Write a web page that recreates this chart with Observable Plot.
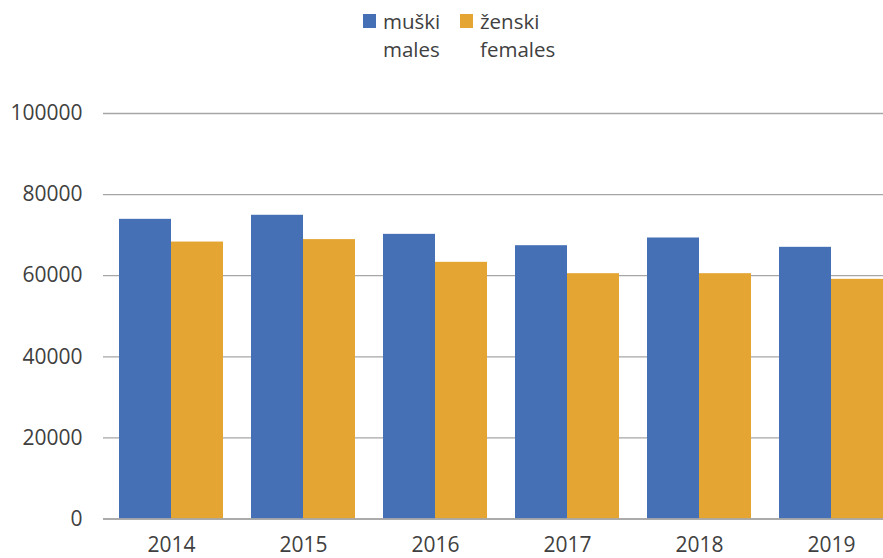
<!DOCTYPE html>
<html>
<head>
<meta charset="utf-8">
<script src="https://cdn.jsdelivr.net/npm/d3@7"></script>
<script src="https://cdn.jsdelivr.net/npm/@observablehq/plot@0.6"></script>
<style>
  html, body { margin: 0; padding: 0; background: #fff; overflow: hidden; width: 883px; height: 558px; }
  body { font-family: "Open Sans", sans-serif; color: #404040; }
  #legend { position: relative; height: 70px; font-size: 20.5px; line-height: 28px; }
  .item { position: absolute; top: 7px; display: flex; align-items: flex-start; }
  .sw { width: 13px; height: 14px; margin-top: 7px; margin-right: 7px; }
  #chart svg { max-width: none !important; }
  svg text { fill: #404040; }
</style>
</head>
<body>
<div id="legend"></div>
<div id="chart"></div>
<script>
const years = ["2014", "2015", "2016", "2017", "2018", "2019"];
const males = [73900, 74900, 70200, 67400, 69300, 67000];
const females = [68300, 68900, 63300, 60500, 60500, 59100];
const seriesLabels = [["muški", "males"], ["ženski", "females"]];
const seriesColors = ["#4570b5", "#e5a533"];
const yTicks = [0, 20000, 40000, 60000, 80000, 100000];

// legend
const legend = document.getElementById("legend");
const legendX = [363, 460];
seriesLabels.forEach((lab, i) => {
  const it = document.createElement("div");
  it.className = "item";
  it.style.left = legendX[i] + "px";
  it.innerHTML = `<div class="sw" style="background:${seriesColors[i]}"></div><div>${lab[0]}<br>${lab[1]}</div>`;
  legend.appendChild(it);
});

const maleData = years.map((y, i) => ({year: y, value: males[i]}));
const femaleData = years.map((y, i) => ({year: y, value: females[i]}));

const chart = Plot.plot({
  width: 897,
  height: 488,
  marginLeft: 104,
  marginRight: 0,
  marginTop: 43,
  marginBottom: 39.5,
  style: {fontFamily: "'Open Sans', sans-serif", fontSize: "21px", color: "#404040", background: "#fff", overflow: "visible", maxWidth: "none"},
  x: {domain: years, paddingInner: 0.213, paddingOuter: 0.107, label: null, tickSize: 0, tickPadding: 18},
  y: {domain: [0, 100000], ticks: yTicks, label: null, tickSize: 0, tickPadding: 22, tickFormat: d => String(d)},
  marks: [
    Plot.ruleY(yTicks, {stroke: "#a6a6a6", strokeWidth: 1.3, insetLeft: -1}),
    Plot.barY(maleData, {x: "year", y: "value", fill: seriesColors[0], insetRight: 52}),
    Plot.barY(femaleData, {x: "year", y: "value", fill: seriesColors[1], insetLeft: 52}),
    Plot.ruleY([0], {stroke: "#a6a6a6", strokeWidth: 1.5, insetLeft: -1})
  ]
});
chart.style.maxWidth = "none";
document.getElementById("chart").appendChild(chart);
</script>
</body>
</html>
